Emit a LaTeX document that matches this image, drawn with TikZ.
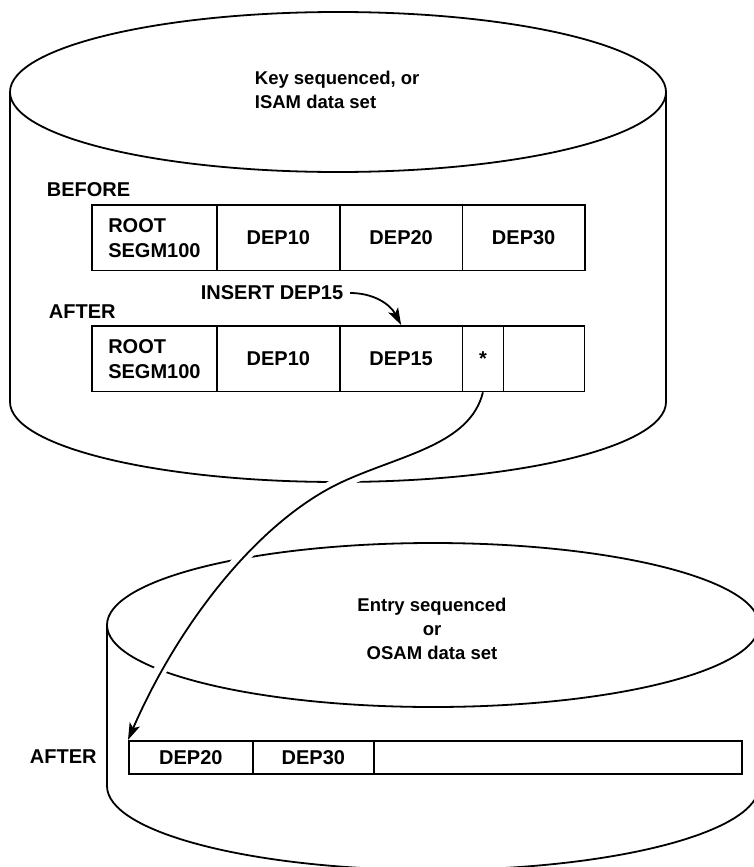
\documentclass[tikz,border=0pt]{standalone}
\usepackage{fontspec}
\setmainfont{Liberation Sans}
\usetikzlibrary{arrows.meta}
\begin{document}
\begin{tikzpicture}[x=1pt,y=-1pt,line width=1.8pt,
  lbl/.style={inner sep=0pt,anchor=west,font=\fontsize{20}{24}\selectfont\bfseries},
  cyltext/.style={inner sep=0pt,font=\fontsize{18.5}{24}\selectfont\bfseries},
  cell/.style={draw,line width=1.8pt,inner sep=0pt,anchor=north west,minimum height=65.5pt,
     align=left,font=\fontsize{20}{25}\selectfont\bfseries},
  lowcell/.style={draw,line width=1.8pt,inner sep=0pt,anchor=north west,minimum height=33pt,
     font=\fontsize{20}{24}\selectfont\bfseries},
  tip/.style={-{Stealth[length=17pt,width=11pt,inset=4pt]}}]
\useasboundingbox (0,0) rectangle (754,867);

% top cylinder
\draw (338,92) ellipse[x radius=328pt,y radius=80pt];
\draw (10,92) -- (10,402) arc[start angle=180,end angle=360,x radius=328pt,y radius=80pt] -- (666,92);

% bottom cylinder
\draw (433,625) ellipse[x radius=326pt,y radius=82pt];
\draw (107,625) -- (107,786) arc[start angle=180,end angle=360,x radius=326pt,y radius=84pt] -- (759,625);

% texts in cylinders
\node[cyltext,align=left,anchor=west] (keytxt) at (254,90) {Key sequenced, or\\ISAM data set};
\node[cyltext,align=center] (entrytxt) at (432,629) {Entry sequenced\\or\\OSAM data set};

% labels
\node[lbl] (before) at (46,190) {BEFORE};
\node[lbl] (after1) at (48,312) {AFTER};
\node[lbl] (ins) at (200,293) {INSERT DEP15};
\node[lbl] (after2) at (29,757) {AFTER};

% BEFORE row
\node[cell,minimum width=125pt] (r1) at (91,204) {ROOT\\SEGM100};
\node[cell,minimum width=123pt,align=center] (r2) at (216,204) {DEP10};
\node[cell,minimum width=122.5pt,align=center] (r3) at (339,204) {DEP20};
\node[cell,minimum width=122.5pt,align=center] (r4) at (461.5,204) {DEP30};

% AFTER row
\node[cell,minimum width=125pt] (a1) at (91,325) {ROOT\\SEGM100};
\node[cell,minimum width=123pt,align=center] (a2) at (216,325) {DEP10};
\node[cell,minimum width=122.5pt,align=center] (a3) at (339,325) {DEP15};
\node[cell,minimum width=41pt,align=center] (a4) at (461.5,325) {*};
\node[cell,minimum width=81pt] (a5) at (502.5,325) {};

% bottom row
\node[lowcell,minimum width=124pt] (b1) at (128,740) {DEP20};
\node[lowcell,minimum width=121pt] (b2) at (252,740) {DEP30};
\node[lowcell,minimum width=368pt] (b3) at (373,740) {};

% insert arrow
\draw[tip] ([xshift=6pt]ins.east) to[out=0,in=118] (a3.north);

% long connector with white gaps where it crosses the cylinder outlines
\draw[white,line width=13pt,shorten <=30pt,shorten >=40pt]
  (a4.south) .. controls (470,445) and (400,455) .. (342,482)
  .. controls (260.5,519.8) and (180,620.4) .. (b1.north west);
\draw[tip]
  (a4.south) .. controls (470,445) and (400,455) .. (342,482)
  .. controls (260.5,519.8) and (180,620.4) .. (b1.north west);
\end{tikzpicture}
\end{document}
